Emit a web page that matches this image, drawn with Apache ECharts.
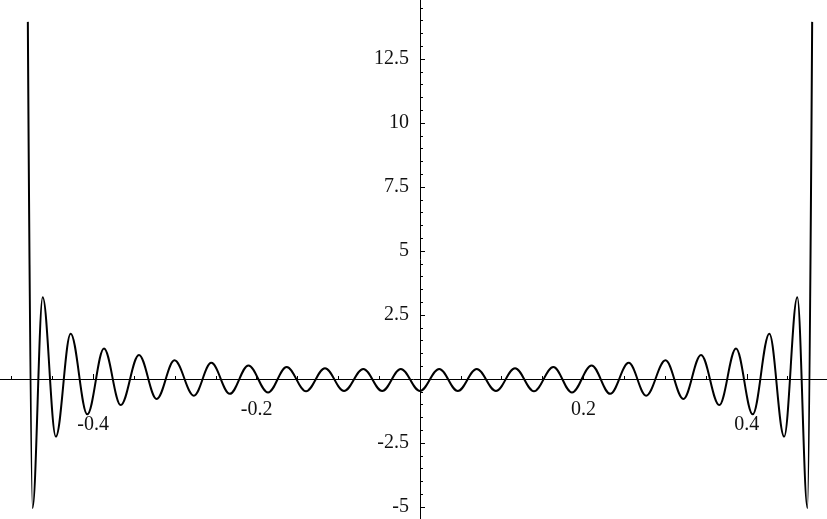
<!DOCTYPE html>
<html>
<head>
<meta charset="utf-8">
<script src="https://cdn.jsdelivr.net/npm/echarts@6/dist/echarts.min.js"></script>
<style>
  html, body { margin: 0; padding: 0; background: #fff; }
  #chart { width: 827px; height: 519px; }
</style>
</head>
<body>
<div id="chart"></div>
<script>
// Turning points of the oscillating curve (x, y), left to right.
// The outermost points are where the steep end branches leave the plot.
const xPoints = [
  -0.4800, -0.4743, -0.4618, -0.4457, -0.4276, -0.4072, -0.3868, -0.3663,
  -0.3440, -0.3223, -0.3005, -0.2768, -0.2555, -0.2328, -0.2100, -0.1860,
  -0.1632, -0.1395, -0.1163, -0.0930, -0.0694, -0.0463, -0.0235,
   0.0000,
   0.0235,  0.0463,  0.0694,  0.0930,  0.1163,  0.1395,  0.1632,  0.1860,
   0.2100,  0.2328,  0.2555,  0.2768,  0.3005,  0.3223,  0.3440,  0.3663,
   0.3868,  0.4072,  0.4276,  0.4457,  0.4618,  0.4743,  0.4800
];
const yPoints = [
  13.95, -5.04,  3.19, -2.25,  1.77, -1.38,  1.19, -1.02,
   0.94, -0.78,  0.73, -0.65,  0.63, -0.58,  0.53, -0.53,
   0.47, -0.48,  0.42, -0.47,  0.39, -0.47,  0.39,
  -0.47,
   0.39, -0.47,  0.39, -0.47,  0.42, -0.48,  0.47, -0.53,
   0.53, -0.58,  0.63, -0.65,  0.73, -0.78,  0.94, -1.02,
   1.19, -1.38,  1.77, -2.25,  3.19, -5.04, 13.95
];

// Labelled ticks on each axis
const xTickLabels = ['-0.4', '-0.2', '0.2', '0.4'];
const xOuterLabels = ['-0.4', '0.4'];
const yTickLabels = ['-5', '-2.5', '2.5', '5', '7.5', '10', '12.5'];

const FONT = '"Liberation Serif", "Times New Roman", serif';
const FONT_SIZE = 20;
const INK = '#000';
const TEXT = '#111';

// Shared scale: x in [-0.6, 0.6], y in [-7.5, 15]
const X_MIN = -0.6, X_MAX = 0.6, Y_MIN = -7.5, Y_MAX = 15;
const PX_X0 = 420, PX_PER_X = 817;   // pixel column of x = 0, pixels per x unit
const PX_Y0 = 379, PX_PER_Y = 25.6;  // pixel row of y = 0, pixels per y unit

const plotLeft = PX_X0 + X_MIN * PX_PER_X;
const plotWidth = (X_MAX - X_MIN) * PX_PER_X;
const plotTop = PX_Y0 - Y_MAX * PX_PER_Y;
const plotHeight = (Y_MAX - Y_MIN) * PX_PER_Y;

function findLabel(list, v) {
  for (const s of list) {
    if (Math.abs(Number(s) - v) < 1e-9) return s;
  }
  return null;
}

const hiddenX = { type: 'value', min: X_MIN, max: X_MAX, show: false };
const hiddenY = { type: 'value', min: Y_MIN, max: Y_MAX, show: false };
const lineStyle = { color: INK, width: 1 };

const chart = echarts.init(document.getElementById('chart'), null, { renderer: 'canvas' });

chart.setOption({
  animation: false,
  backgroundColor: '#ffffff',
  grid: [
    // plotting area for the curve
    { left: plotLeft, width: plotWidth, top: plotTop, height: plotHeight,
      outerBoundsMode: 'none', containLabel: false },
    // horizontal axis sits on the bottom edge of this grid (y = 0)
    { left: plotLeft, width: plotWidth, top: plotTop, height: Y_MAX * PX_PER_Y,
      outerBoundsMode: 'none', containLabel: false },
    // vertical axis sits on the left edge of this grid (x = 0)
    { left: PX_X0, width: X_MAX * PX_PER_X, top: plotTop, height: plotHeight,
      outerBoundsMode: 'none', containLabel: false }
  ],
  xAxis: [
    Object.assign({ gridIndex: 0 }, hiddenX),
    {
      gridIndex: 1,
      type: 'value',
      position: 'bottom',
      min: X_MIN,
      max: X_MAX,
      interval: 0.2,
      axisLine: { onZero: false, lineStyle: lineStyle },
      axisTick: { show: true, inside: true, length: 5, lineStyle: lineStyle },
      minorTick: { show: true, splitNumber: 4, length: 3, lineStyle: lineStyle },
      splitLine: { show: false },
      minorSplitLine: { show: false },
      axisLabel: {
        show: true,
        margin: 21,
        color: TEXT,
        fontFamily: FONT,
        fontSize: FONT_SIZE,
        formatter: function (v) {
          const s = findLabel(xTickLabels, v);
          if (s === null) return '';
          return findLabel(xOuterLabels, v) !== null ? '{far|' + s + '}' : '{near|' + s + '}';
        },
        rich: {
          near: { fontFamily: FONT, fontSize: FONT_SIZE, color: TEXT },
          far: { fontFamily: FONT, fontSize: FONT_SIZE, color: TEXT, padding: [15, 0, 0, 0] }
        }
      }
    },
    Object.assign({ gridIndex: 2 }, hiddenX, { min: 0 })
  ],
  yAxis: [
    Object.assign({ gridIndex: 0 }, hiddenY),
    Object.assign({ gridIndex: 1 }, hiddenY, { min: 0 }),
    {
      gridIndex: 2,
      type: 'value',
      position: 'left',
      min: Y_MIN,
      max: Y_MAX,
      interval: 2.5,
      axisLine: { onZero: false, lineStyle: lineStyle },
      axisTick: { show: true, inside: true, length: 5, lineStyle: lineStyle },
      minorTick: { show: true, splitNumber: 5, length: 3, lineStyle: lineStyle },
      splitLine: { show: false },
      minorSplitLine: { show: false },
      axisLabel: {
        show: true,
        margin: 11,
        color: TEXT,
        fontFamily: FONT,
        fontSize: FONT_SIZE,
        formatter: function (v) {
          const s = findLabel(yTickLabels, v);
          return s === null ? '' : s;
        }
      }
    }
  ],
  series: [{
    type: 'line',
    xAxisIndex: 0,
    yAxisIndex: 0,
    data: xPoints.map((x, i) => [x, yPoints[i]]),
    showSymbol: false,
    smooth: 0.36,
    smoothMonotone: 'x',
    clip: true,
    lineStyle: { color: INK, width: 2 },
    emphasis: { disabled: true },
    silent: true
  }]
});
</script>
</body>
</html>
